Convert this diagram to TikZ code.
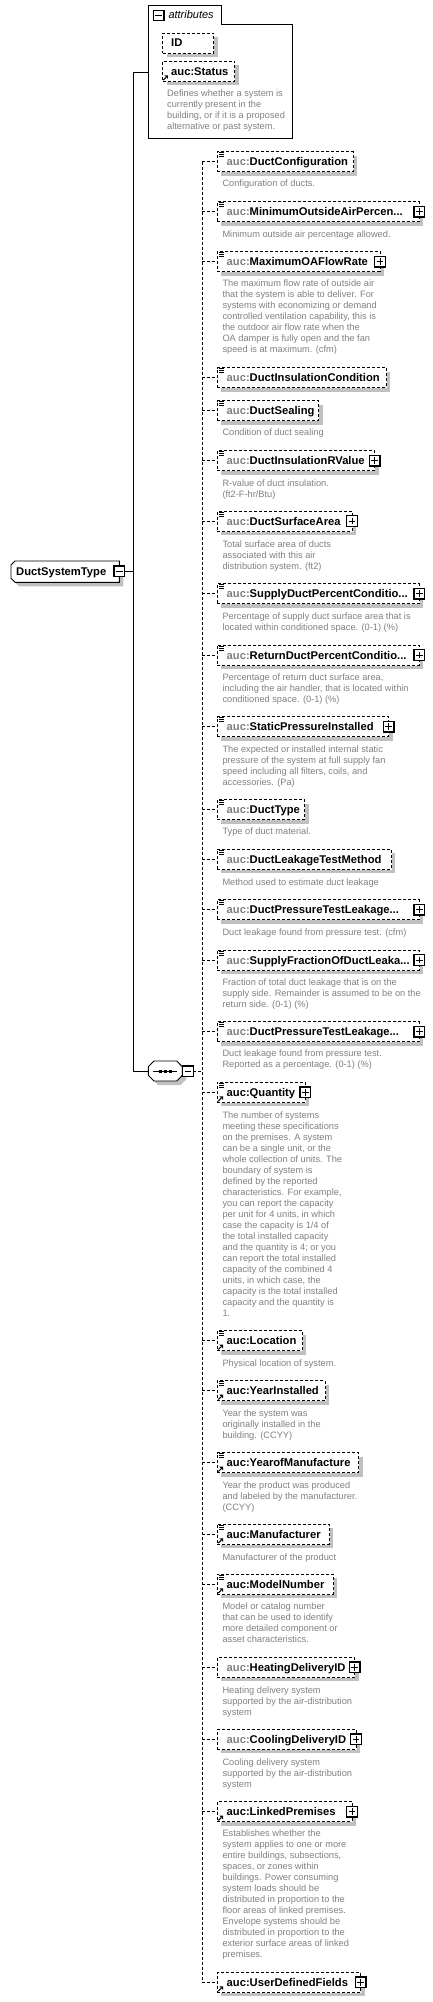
\documentclass[tikz,border=0pt]{standalone}
\usepackage{fontspec}
\setmainfont{Liberation Sans}
\usetikzlibrary{arrows.meta}
\definecolor{descgray}{RGB}{128,128,128}
\definecolor{pfxgray}{RGB}{128,128,128}
\definecolor{shadowc}{RGB}{192,192,192}
\tikzset{
 elbox/.style={draw, dash pattern=on 3pt off 2pt, line width=0.9pt, fill=white, anchor=north west, minimum height=20pt, inner sep=0pt, outer sep=0pt},
 eltitle/.style={anchor=base west, inner sep=0pt, font=\fontsize{11.2}{13}\selectfont\bfseries},
 desc/.style={anchor=base west, inner sep=0pt, text=descgray, font=\fontsize{9.25}{11}\selectfont},
 dconn/.style={dash pattern=on 3pt off 2pt, line width=0.9pt},
 sconn/.style={line width=0.9pt},
 iconbox/.style={draw, line width=1.3pt, fill=white},
}
\newcommand\pfx{\textcolor{pfxgray}{auc:}}
\newcommand\plusicon[2]{%
 \draw[iconbox] ({#1-5.2},{#2-5.2}) rectangle ({#1+5.2},{#2+5.2});
 \draw[line width=0.9pt] ({#1-3.3},{#2}) -- ({#1+3.3},{#2}) ({#1},{#2-3.3}) -- ({#1},{#2+3.3});}
\newcommand\minusicon[2]{%
 \draw[iconbox] ({#1-5.2},{#2-5.2}) rectangle ({#1+5.2},{#2+5.2});
 \draw[line width=0.9pt] ({#1-3.3},{#2}) -- ({#1+3.3},{#2});}
\newcommand\listicon[2]{%
 \draw[line width=0.7pt] (#1,{#2+1}) -- ++(5,0) (#1,{#2+3}) -- ++(5,0) (#1,{#2+5}) -- ++(5,0);}
\newcommand\refarrow[2]{%
 \draw[line width=1pt] ({#1+0.5},{#2-1.2}) -- ({#1+3.2},{#2-3.9});
 \fill ({#1+5.2},{#2-6}) -- ({#1+5.2},{#2-2.4}) -- ({#1+1.6},{#2-6}) -- cycle;}
\newcommand\elem[7]{%
 \fill[shadowc] ({#3+0.5},{#2+4}) rectangle ({#3+4},{#2+24});
 \fill[shadowc] (221.3,{#2+20.5}) rectangle ({#3+4},{#2+24});
 \node[elbox, minimum width={(#3-217.3)*1pt}] (#1) at (217.3,#2) {};
 \node[eltitle] (#1t) at (226.5,{#2+14}) {#4};
 \ifnum#5=1 \listicon{219}{#2}\fi
 \ifnum#6=1 \refarrow{217.8}{#2+20}\fi
 \ifnum#7=1 \plusicon{#3}{#2+10}\fi
 \draw[dconn] (vtop |- #1.west) -- (#1.west);}
\newcommand\desc[4]{\node[desc] (#1) at (#2,#3) {\begin{tabular}[t]{@{}l@{}}#4\end{tabular}};}

\begin{document}
\begin{tikzpicture}[x=1pt,y=-1pt]
\useasboundingbox (0,0) rectangle (433,2002);
% connector coordinates
\coordinate (attrin) at (148.3,72);
\coordinate (seqin) at (148.3,1071.3);
\coordinate (vtop) at (202.3,161.7);
\coordinate (vbot) at (202.3,1981.7);
\coordinate (seqout) at (193.3,1071.3);
\coordinate (dstout) at (124.5,571.3);
\coordinate (vx) at (133.3,571.3);
% attributes group
\draw[sconn] (148.3,5.3) -- (221.3,5.3) -- (221.3,24.3) -- (292.3,24.3) -- (292.3,138) -- (148.3,138) -- cycle;
\minusicon{158.7}{15.5}
\node[anchor=base west, inner sep=0pt, font=\fontsize{11}{13}\selectfont\itshape] (attrt) at (168.3,19) {attributes};
% ID
\fill[shadowc] (214.2,37) rectangle (217.7,57.3);
\fill[shadowc] (166.7,53.8) rectangle (217.7,57.3);
\node[elbox, minimum width=51pt] (id) at (162.7,33) {};
\node[eltitle] (idt) at (171,47) {ID};
% Status
\fill[shadowc] (235.2,65.3) rectangle (238.7,85.3);
\fill[shadowc] (166.7,81.8) rectangle (238.7,85.3);
\node[elbox, minimum width=72pt] (status) at (162.7,61.3) {};
\node[eltitle] (statust) at (171,75.3) {auc:Status};
\refarrow{162.7}{81.3}
\desc{statusd}{167}{96.8}{Defines whether a system is\\currently present in the\\building, or if it is a proposed\\alternative or past system.}
% DuctSystemType
\fill[shadowc] (19,565) -- (123.3,565) -- (123.3,586.3) -- (19,586.3) -- (15,582.3) -- (15,569) -- cycle;
\draw[sconn, fill=white] (15,561) -- (119.3,561) -- (119.3,582.3) -- (15,582.3) -- (11,578.3) -- (11,565) -- cycle;
\node[eltitle] (dst) at (16,575.8) {DuctSystemType};
\minusicon{119.3}{571.3}
% sequence compositor
\fill[shadowc] (158,1065) -- (180.7,1065) -- (186.3,1070.7) -- (186.3,1079.3) -- (180.7,1085) -- (158,1085) -- (152.3,1079.3) -- (152.3,1070.7) -- cycle;
\draw[sconn, fill=white] (154,1061) -- (176.7,1061) -- (182.3,1066.7) -- (182.3,1075.3) -- (176.7,1081) -- (154,1081) -- (148.3,1075.3) -- (148.3,1066.7) -- cycle;
\draw[sconn] (153.3,1071.3) -- (176.7,1071.3);
\fill (158.8,1069.6) rectangle ++(3.4,3.4);
\fill (163.8,1069.6) rectangle ++(3.4,3.4);
\fill (168.8,1069.6) rectangle ++(3.4,3.4);
\minusicon{188}{1071.3}
% main connectors
\draw[sconn] (dstout) -- (vx);
\draw[sconn] (attrin) -- ++(-15,0) |- (seqin);
\draw[dconn] (vtop) -- (vbot);
\draw[dconn] (seqout) -- (seqout -| vtop);
% children
\elem{e1}{151.7}{353.3}{\pfx DuctConfiguration}{1}{0}{0}
\desc{d1}{222.3}{186.8}{Configuration of ducts.}
\elem{e2}{201.7}{419.3}{\pfx MinimumOutsideAirPercen...}{1}{0}{1}
\desc{d2}{222.3}{237.5}{Minimum outside air percentage allowed.}
\elem{e3}{251.7}{380}{\pfx MaximumOAFlowRate}{1}{0}{1}
\desc{d3}{222.3}{286.8}{The maximum flow rate of outside air\\that the system is able to deliver. For\\systems with economizing or demand\\controlled ventilation capability, this is\\the outdoor air flow rate when the\\OA damper is fully open and the fan\\speed is at maximum. (cfm)}
\elem{e4}{367.7}{386}{\pfx DuctInsulationCondition}{1}{0}{0}
\elem{e5}{400.7}{318.7}{\pfx DuctSealing}{1}{0}{0}
\desc{d5}{222.3}{435.8}{Condition of duct sealing}
\elem{e6}{450.7}{374.7}{\pfx DuctInsulationRValue}{1}{0}{1}
\desc{d6}{222.3}{486.2}{R-value of duct insulation.\\(ft2-F-hr/Btu)}
\elem{e7}{511}{352}{\pfx DuctSurfaceArea}{1}{0}{1}
\desc{d7}{222.3}{547.2}{Total surface area of ducts\\associated with this air\\distribution system. (ft2)}
\elem{e8}{583.7}{419.3}{\pfx SupplyDuctPercentConditio...}{1}{0}{1}
\desc{d8}{222.3}{619.2}{Percentage of supply duct surface area that is\\located within conditioned space. (0-1) (\%)}
\elem{e9}{645}{419.3}{\pfx ReturnDuctPercentConditio...}{1}{0}{1}
\desc{d9}{222.3}{680.2}{Percentage of return duct surface area,\\including the air handler, that is located within\\conditioned space. (0-1) (\%)}
\elem{e10}{716.7}{388.7}{\pfx StaticPressureInstalled}{1}{0}{1}
\desc{d10}{222.3}{752.2}{The expected or installed internal static\\pressure of the system at full supply fan\\speed including all filters, coils, and\\accessories. (Pa)}
\elem{e11}{799.7}{304.7}{\pfx DuctType}{1}{0}{0}
\desc{d11}{222.3}{834.5}{Type of duct material.}
\elem{e12}{849}{391.3}{\pfx DuctLeakageTestMethod}{1}{0}{0}
\desc{d12}{222.3}{885.2}{Method used to estimate duct leakage}
\elem{e13}{899.7}{419.3}{\pfx DuctPressureTestLeakage...}{1}{0}{1}
\desc{d13}{222.3}{935.5}{Duct leakage found from pressure test. (cfm)}
\elem{e14}{950}{419.3}{\pfx SupplyFractionOfDuctLeaka...}{1}{0}{1}
\desc{d14}{222.3}{985.2}{Fraction of total duct leakage that is on the\\supply side. Remainder is assumed to be on the\\return side. (0-1) (\%)}
\elem{e15}{1021.7}{419.3}{\pfx DuctPressureTestLeakage...}{1}{0}{1}
\desc{d15}{222.3}{1056.8}{Duct leakage found from pressure test.\\Reported as a percentage. (0-1) (\%)}
\elem{e16}{1082.3}{305.3}{auc:Quantity}{1}{1}{1}
\desc{d16}{222.3}{1118.2}{The number of systems\\meeting these specifications\\on the premises. A system\\can be a single unit, or the\\whole collection of units. The\\boundary of system is\\defined by the reported\\characteristics. For example,\\you can report the capacity\\per unit for 4 units, in which\\case the capacity is 1/4 of\\the total installed capacity\\and the quantity is 4; or you\\can report the total installed\\capacity of the combined 4\\units, in which case, the\\capacity is the total installed\\capacity and the quantity is\\1.}
\elem{e17}{1330.7}{302}{auc:Location}{1}{1}{0}
\desc{d17}{222.3}{1366.2}{Physical location of system.}
\elem{e18}{1380.7}{325.3}{auc:YearInstalled}{1}{1}{0}
\desc{d18}{222.3}{1416.2}{Year the system was\\originally installed in the\\building. (CCYY)}
\elem{e19}{1452.7}{358.7}{auc:YearofManufacture}{1}{1}{0}
\desc{d19}{222.3}{1488.2}{Year the product was produced\\and labeled by the manufacturer.\\(CCYY)}
\elem{e20}{1524.3}{329.3}{auc:Manufacturer}{1}{1}{0}
\desc{d20}{222.3}{1560.2}{Manufacturer of the product}
\elem{e21}{1574.3}{333.3}{auc:ModelNumber}{1}{1}{0}
\desc{d21}{222.3}{1609.8}{Model or catalog number\\that can be used to identify\\more detailed component or\\asset characteristics.}
\elem{e22}{1657.3}{354.7}{\pfx HeatingDeliveryID}{0}{0}{1}
\desc{d22}{222.3}{1693.5}{Heating delivery system\\supported by the air-distribution\\system}
\elem{e23}{1729.3}{356}{\pfx CoolingDeliveryID}{0}{0}{1}
\desc{d23}{222.3}{1765.2}{Cooling delivery system\\supported by the air-distribution\\system}
\elem{e24}{1801.7}{352}{auc:LinkedPremises}{0}{1}{1}
\desc{d24}{222.3}{1836.8}{Establishes whether the\\system applies to one or more\\entire buildings, subsections,\\spaces, or zones within\\buildings. Power consuming\\system loads should be\\distributed in proportion to the\\floor areas of linked premises.\\Envelope systems should be\\distributed in proportion to the\\exterior surface areas of linked\\premises.}
\elem{e25}{1972.3}{360.7}{auc:UserDefinedFields}{0}{1}{1}
\end{tikzpicture}
\end{document}
